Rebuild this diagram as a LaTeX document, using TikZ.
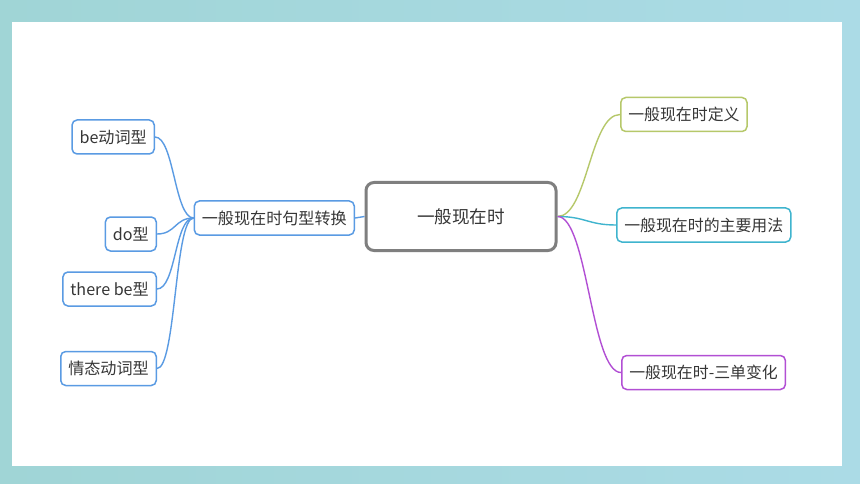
\documentclass[tikz,border=0pt]{standalone}
\usepackage{fontspec}
\setmainfont{Noto Sans CJK SC}

\definecolor{bgL}{HTML}{A0D5D6}
\definecolor{bgM}{HTML}{B6E4DA}
\definecolor{bgR}{HTML}{ABDBE6}
\definecolor{txt}{HTML}{363636}
\definecolor{rootgray}{HTML}{7F7F7F}
\definecolor{convblue}{HTML}{5A9BE3}
\definecolor{defgreen}{HTML}{B6C86A}
\definecolor{usecyan}{HTML}{3FB4CE}
\definecolor{thirdpurple}{HTML}{B24FD4}

\begin{document}
\begin{tikzpicture}[x=1pt, y=-1pt,
    rootbox/.style={draw=rootgray, line width=3pt, rounded corners=8pt, fill=white,
        minimum width=190pt, minimum height=68pt, text=txt, font=\fontsize{17.6}{20}\selectfont},
    leaf/.style={draw=#1, line width=1.5pt, rounded corners=5pt, fill=white,
        minimum height=34pt, inner xsep=7.5pt, inner ysep=0pt, text=txt},
    lbox/.style={leaf=convblue, font=\fontsize{16.1}{18}\selectfont},
    rbox/.style={leaf=#1, font=\fontsize{15.9}{18}\selectfont},
    link/.style={draw=#1, line width=1.4pt}]
    \useasboundingbox (0,0) rectangle (860,484);

    % Background and white sheet
    \shade[left color=bgL, middle color=bgM, right color=bgR] (0,0) rectangle (860,484);
    \fill[white] (12,22) rectangle (842,466);

    % Central topic
    \node[rootbox] (root) at (461,216.5) {一般现在时};

    % Right branches
    \node[rbox=defgreen, anchor=west] (def) at (620,114.5) {一般现在时定义};
    \node[rbox=usecyan, anchor=west] (use) at (616,225) {一般现在时的主要用法};
    \node[rbox=thirdpurple, anchor=west] (third) at (621,372.5) {一般现在时-三单变化};

    % Left branch and its sub-topics
    \node[lbox, anchor=east] (conv) at (355,218) {一般现在时句型转换};
    \node[lbox, anchor=east] (be) at (155,137) {be动词型};
    \node[lbox, anchor=east] (do) at (157,234) {do型};
    \node[lbox, anchor=east] (there) at (157,289) {there be型};
    \node[lbox, anchor=east] (modal) at (157,368.5) {情态动词型};

    % Connectors on the right
    \draw[link=defgreen] (root.east) .. controls +(30,0) and +(-30,0) .. (def.west);
    \draw[link=usecyan] (root.east) .. controls +(28,0) and +(-28,0) .. (use.west);
    \draw[link=thirdpurple] (root.east) .. controls +(30,0) and +(-30,0) .. (third.west);

    % Connectors on the left
    \draw[link=convblue] (root.west) -- (conv.east);
    \draw[link=convblue] (conv.west) .. controls +(-19,0) and +(19,0) .. (be.east);
    \draw[link=convblue] (conv.west) .. controls +(-19,0) and +(19,0) .. (do.east);
    \draw[link=convblue] (conv.west) .. controls +(-19,0) and +(19,0) .. (there.east);
    \draw[link=convblue] (conv.west) .. controls +(-19,0) and +(19,0) .. (modal.east);
\end{tikzpicture}
\end{document}
